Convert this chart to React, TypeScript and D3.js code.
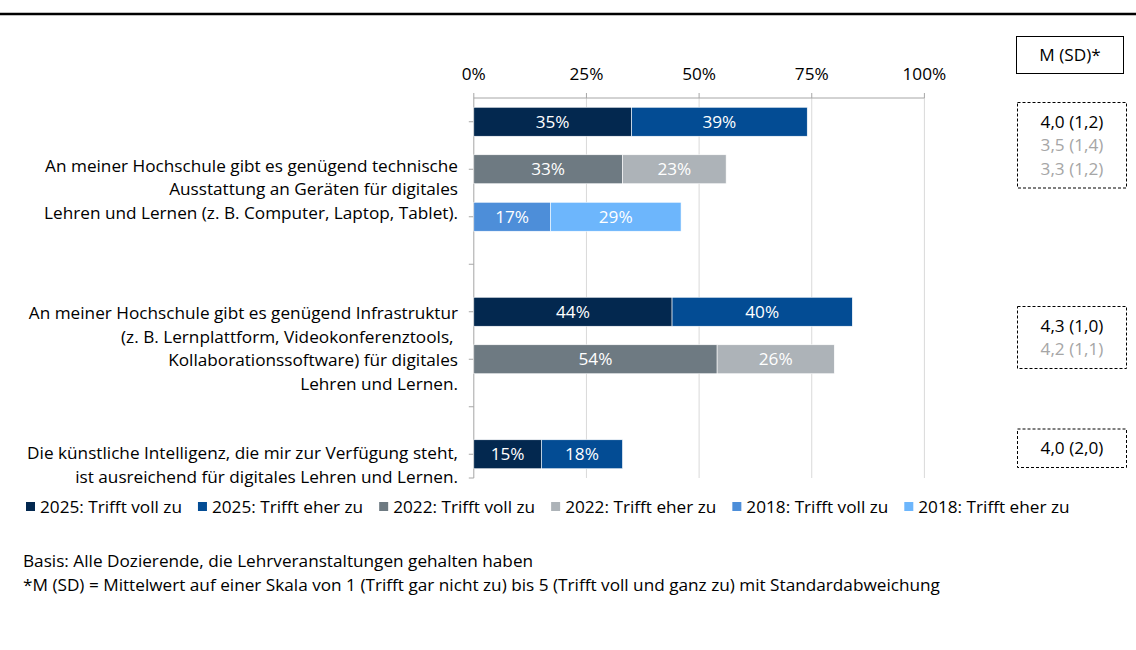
import React, { useEffect, useLayoutEffect, useRef, useState } from 'react';
import * as d3 from 'd3';

// categories (statement text lines), series, M(SD) values
const statements = [
  ['An meiner Hochschule gibt es genügend technische', 'Ausstattung an Geräten für digitales', 'Lehren und Lernen (z. B. Computer, Laptop, Tablet).'],
  ['An meiner Hochschule gibt es genügend Infrastruktur', '(z. B. Lernplattform, Videokonferenztools, ', 'Kollaborationssoftware) für digitales', 'Lehren und Lernen.'],
  ['Die künstliche Intelligenz, die mir zur Verfügung steht,', 'ist ausreichend für digitales Lehren und Lernen.'],
];
const years = ['2025', '2022', '2018'];
// [voll, eher] per year, per statement (null = not asked)
const voll2025 = [35, 44, 15];
const eher2025 = [39, 40, 18];
const voll2022 = [33, 54, null];
const eher2022 = [23, 26, null];
const voll2018 = [17, null, null];
const eher2018 = [29, null, null];
const msd = [
  ['4,0 (1,2)', '3,5 (1,4)', '3,3 (1,2)'],
  ['4,3 (1,0)', '4,2 (1,1)'],
  ['4,0 (2,0)'],
];
const xTicks = [0, 25, 50, 75, 100];
const legendLabels = [
  '2025: Trifft voll zu', '2025: Trifft eher zu',
  '2022: Trifft voll zu', '2022: Trifft eher zu',
  '2018: Trifft voll zu', '2018: Trifft eher zu',
];
const colors = ['#03284f', '#034c94', '#6e7a82', '#adb3b8', '#4d8ed9', '#6db6fc'];
const footnotes = [
  'Basis: Alle Dozierende, die Lehrveranstaltungen gehalten haben',
  '*M (SD) = Mittelwert auf einer Skala von 1 (Trifft gar nicht zu) bis 5 (Trifft voll und ganz zu) mit Standardabweichung',
];

const FONT = "'Open Sans', sans-serif";
const FS = 17.2;

export default function App() {
  useEffect(() => {
    document.body.style.margin = '0';
  }, []);

  const legendRef = useRef<SVGGElement>(null);
  const [legendPos, setLegendPos] = useState<number[]>(legendLabels.map((l, i) => 26 + i * 175));

  // lay the legend out from the real text widths
  useLayoutEffect(() => {
    if (!legendRef.current) return;
    const texts = d3.select(legendRef.current).selectAll<SVGTextElement, unknown>('text').nodes();
    const pos: number[] = [];
    let lx = 26;
    texts.forEach(t => {
      pos.push(lx);
      lx += 14 + t.getComputedTextLength() + 16;
    });
    if (pos.some((p, i) => Math.abs(p - legendPos[i]) > 0.5)) setLegendPos(pos);
  }, [legendPos]);

  const width = 1136;
  const height = 650;

  const vollAll = [voll2025, voll2022, voll2018];
  const eherAll = [eher2025, eher2022, eher2018];

  // slots: one per (statement, year) row, plus an empty slot between statements
  const slots: { key: string; s: number; y: number | null }[] = [];
  statements.forEach((_, s) => {
    years.forEach((_, yi) => {
      if (vollAll[yi][s] != null) slots.push({ key: `s${s}-${years[yi]}`, s, y: yi });
    });
    if (s < statements.length - 1) slots.push({ key: `gap${s}`, s, y: null });
  });

  const x = d3.scaleLinear().domain([0, 100]).range([473.8, 924.4]);
  const yBand = d3
    .scaleBand<string>()
    .domain(slots.map(d => d.key))
    .range([98, 478])
    .paddingInner(0.39)
    .paddingOuter(0.195);

  const bars = slots.filter(d => d.y != null);
  const bw = yBand.bandwidth();
  const step = yBand.step();

  const groupRows = statements.map((_, s) => bars.filter(b => b.s === s));

  return (
    <svg width={width} height={height} style={{ display: 'block', fontFamily: FONT }}>
      <rect x={0} y={0} width={width} height={height} fill="#fff" />
      <line x1={0} x2={width} y1={14} y2={14} stroke="#000" strokeWidth={2.5} />

      {/* grid */}
      {xTicks.slice(1).map(t => (
        <line key={t} x1={x(t)} x2={x(t)} y1={98} y2={478} stroke="#d9d9d9" strokeWidth={1} />
      ))}

      {/* top axis */}
      <line x1={x(0)} x2={x(100)} y1={98} y2={98} stroke="#a6a6a6" />
      {xTicks.map(t => (
        <g key={t}>
          <line x1={x(t)} x2={x(t)} y1={93} y2={98} stroke="#a6a6a6" />
          <text x={x(t)} y={74} dy="0.35em" textAnchor="middle" fontSize={FS} fill="#000">{t}%</text>
        </g>
      ))}

      {/* left axis */}
      <line x1={x(0)} x2={x(0)} y1={98} y2={478} stroke="#a6a6a6" />
      {slots.map(d => (
        <line key={d.key} x1={x(0) - 5} x2={x(0)} y1={(yBand(d.key) ?? 0) + bw / 2} y2={(yBand(d.key) ?? 0) + bw / 2} stroke="#a6a6a6" />
      ))}
      <line x1={x(0) - 5} x2={x(0)} y1={478} y2={478} stroke="#a6a6a6" />

      {/* bars */}
      {bars.map(d => {
        const yi = d.y as number;
        const v = vollAll[yi][d.s] as number;
        const e = eherAll[yi][d.s] as number;
        const y0 = yBand(d.key) ?? 0;
        const segs = [
          { from: 0, to: v, val: v, c: colors[yi * 2] },
          { from: v, to: v + e, val: e, c: colors[yi * 2 + 1] },
        ];
        return (
          <g key={d.key}>
            {segs.map((sg, i) => (
              <g key={i}>
                <rect x={x(sg.from)} y={y0} width={x(sg.to) - x(sg.from)} height={bw} fill={sg.c} stroke="#fff" strokeWidth={0.6} />
                <text x={(x(sg.from) + x(sg.to)) / 2} y={y0 + bw / 2} dy="0.35em" textAnchor="middle" fontSize={FS} fill="#fff">
                  {sg.val}%
                </text>
              </g>
            ))}
          </g>
        );
      })}

      {/* category labels */}
      {statements.map((lines, s) => {
        const rows = groupRows[s];
        const top = yBand(rows[0].key) ?? 0;
        const bottom = (yBand(rows[rows.length - 1].key) ?? 0) + bw;
        const cy = s === 2 ? (top + bottom) / 2 + 11 : (top + bottom) / 2 + 20 - (s === 1 ? 7 : 0);
        const lh = 23.7;
        return (
          <text key={s} fontSize={FS} fill="#000" textAnchor="end" style={{ whiteSpace: 'pre' }}>
            {lines.map((l, i) => (
              <tspan key={i} x={458} y={cy + (i - (lines.length - 1) / 2) * lh} dy="0.35em">{l}</tspan>
            ))}
          </text>
        );
      })}

      {/* M (SD) header */}
      <rect x={1016.5} y={36.5} width={107} height={37} fill="none" stroke="#000" />
      <text x={1070} y={55} dy="0.35em" textAnchor="middle" fontSize={FS}>M (SD)*</text>

      {/* M (SD) boxes */}
      {msd.map((vals, s) => {
        const rows = groupRows[s];
        const lh = 23.5;
        const cy = s === 0 ? (yBand(rows[0].key) ?? 0) + bw / 2 + lh
          : s === 1 ? (yBand(rows[0].key) ?? 0) + bw / 2 + step / 2 + 2
          : (yBand(rows[0].key) ?? 0) + bw / 2 - 6;
        const hgt = vals.length * lh + 15;
        return (
          <g key={s}>
            <rect x={1017.5} y={cy - hgt / 2} width={109} height={hgt} fill="none" stroke="#000" strokeDasharray="3,2" />
            {vals.map((v, i) => (
              <text key={i} x={1072} y={cy + (i - (vals.length - 1) / 2) * lh} dy="0.35em" textAnchor="middle" fontSize={FS} fill={i === 0 ? '#000' : '#a6a6a6'}>
                {v}
              </text>
            ))}
          </g>
        );
      })}

      {/* legend */}
      <g ref={legendRef}>
        {legendLabels.map((l, i) => (
          <g key={l}>
            <rect x={legendPos[i]} y={502} width={9} height={9} fill={colors[i]} />
            <text x={legendPos[i] + 14} y={507} dy="0.35em" fontSize={FS} fill="#000">{l}</text>
          </g>
        ))}
      </g>

      {/* footnotes */}
      {footnotes.map((f, i) => (
        <text key={i} x={23} y={561 + i * 24} dy="0.35em" fontSize={FS} fill="#000">{f}</text>
      ))}
    </svg>
  );
}
